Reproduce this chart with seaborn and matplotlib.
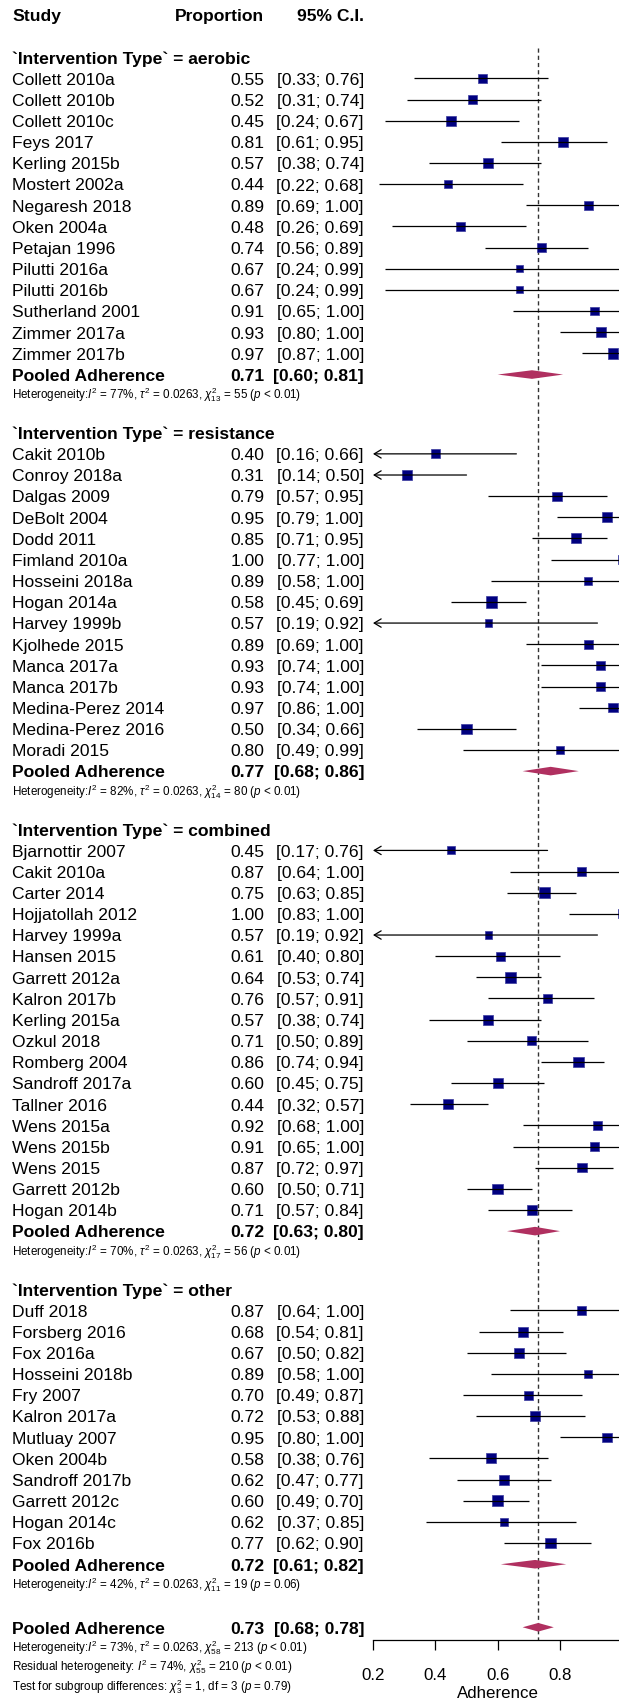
import numpy as np
import pandas as pd
import matplotlib
matplotlib.use("Agg")
import matplotlib.pyplot as plt
import matplotlib.transforms as mtransforms
import seaborn as sns

# ---------------- data ----------------
group_names = ["aerobic", "resistance", "combined", "other"]

studies_aerobic = ["Collett 2010a", "Collett 2010b", "Collett 2010c", "Feys 2017", "Kerling 2015b",
                   "Mostert 2002a", "Negaresh 2018", "Oken 2004a", "Petajan 1996", "Pilutti 2016a",
                   "Pilutti 2016b", "Sutherland 2001", "Zimmer 2017a", "Zimmer 2017b"]
prop_aerobic = [0.55, 0.52, 0.45, 0.81, 0.57, 0.44, 0.89, 0.48, 0.74, 0.67, 0.67, 0.91, 0.93, 0.97]
lo_aerobic = [0.33, 0.31, 0.24, 0.61, 0.38, 0.22, 0.69, 0.26, 0.56, 0.24, 0.24, 0.65, 0.80, 0.87]
hi_aerobic = [0.76, 0.74, 0.67, 0.95, 0.74, 0.68, 1.00, 0.69, 0.89, 0.99, 0.99, 1.00, 1.00, 1.00]
weight_aerobic = [1.38, 1.29, 1.70, 1.70, 1.60, 1.17, 1.38, 1.53, 1.53, 0.83, 0.83, 1.23, 1.70, 1.87]

studies_resistance = ["Cakit 2010b", "Conroy 2018a", "Dalgas 2009", "DeBolt 2004", "Dodd 2011",
                      "Fimland 2010a", "Hosseini 2018a", "Hogan 2014a", "Harvey 1999b", "Kjolhede 2015",
                      "Manca 2017a", "Manca 2017b", "Medina-Perez 2014", "Medina-Perez 2016", "Moradi 2015"]
prop_resistance = [0.40, 0.31, 0.79, 0.95, 0.85, 1.00, 0.89, 0.58, 0.57, 0.89, 0.93, 0.93, 0.97, 0.50, 0.80]
lo_resistance = [0.16, 0.14, 0.57, 0.79, 0.71, 0.77, 0.58, 0.45, 0.19, 0.69, 0.74, 0.74, 0.86, 0.34, 0.49]
hi_resistance = [0.66, 0.50, 0.95, 1.00, 0.95, 1.00, 1.00, 0.69, 0.92, 1.00, 1.00, 1.00, 1.00, 0.66, 0.99]
weight_resistance = [1.38, 1.70, 1.47, 1.70, 1.70, 1.38, 1.09, 2.17, 0.91, 1.38, 1.38, 1.38, 1.53, 1.87, 1.09]

studies_combined = ["Bjarnottir 2007", "Cakit 2010a", "Carter 2014", "Hojjatollah 2012", "Harvey 1999a",
                    "Hansen 2015", "Garrett 2012a", "Kalron 2017b", "Kerling 2015a", "Ozkul 2018",
                    "Romberg 2004", "Sandroff 2017a", "Tallner 2016", "Wens 2015a", "Wens 2015b",
                    "Wens 2015", "Garrett 2012b", "Hogan 2014b"]
prop_combined = [0.45, 0.87, 0.75, 1.00, 0.57, 0.61, 0.64, 0.76, 0.57, 0.71, 0.86, 0.60, 0.44, 0.92, 0.91,
                 0.87, 0.60, 0.71]
lo_combined = [0.17, 0.64, 0.63, 0.83, 0.19, 0.40, 0.53, 0.57, 0.38, 0.50, 0.74, 0.45, 0.32, 0.68, 0.65,
               0.72, 0.50, 0.57]
hi_combined = [0.76, 1.00, 0.85, 1.00, 0.92, 0.80, 0.74, 0.91, 0.74, 0.89, 0.94, 0.75, 0.57, 1.00, 1.00,
               0.97, 0.71, 0.84]
weight_combined = [1.09, 1.47, 1.95, 1.38, 0.91, 1.29, 1.95, 1.47, 1.70, 1.38, 1.87, 1.70, 1.87, 1.23, 1.23,
                   1.53, 1.87, 1.70]

studies_other = ["Duff 2018", "Forsberg 2016", "Fox 2016a", "Hosseini 2018b", "Fry 2007", "Kalron 2017a",
                 "Mutluay 2007", "Oken 2004b", "Sandroff 2017b", "Garrett 2012c", "Hogan 2014c", "Fox 2016b"]
prop_other = [0.87, 0.68, 0.67, 0.89, 0.70, 0.72, 0.95, 0.58, 0.62, 0.60, 0.62, 0.77]
lo_other = [0.64, 0.54, 0.50, 0.58, 0.49, 0.53, 0.80, 0.38, 0.47, 0.49, 0.37, 0.62]
hi_other = [1.00, 0.81, 0.82, 1.00, 0.87, 0.88, 1.00, 0.76, 0.77, 0.70, 0.85, 0.90]
weight_other = [1.38, 1.70, 1.70, 1.09, 1.38, 1.53, 1.53, 1.70, 1.70, 2.06, 1.23, 1.87]

pooled_est = [0.71, 0.77, 0.72, 0.72]
pooled_lo = [0.60, 0.68, 0.63, 0.61]
pooled_hi = [0.81, 0.86, 0.80, 0.82]
het_I2 = ["77%", "82%", "70%", "42%"]
het_df = ["13", "14", "17", "11"]
het_Q = ["55", "80", "56", "19"]
het_p = ["< 0.01", "< 0.01", "< 0.01", "= 0.06"]
tau2 = "0.0263"

overall_est, overall_lo, overall_hi = 0.73, 0.68, 0.78
overall_het = r"Heterogeneity:$I^2$ = 73%, $\tau^2$ = 0.0263, $\chi^2_{58}$ = 213 ($p$ < 0.01)"
resid_het = r"Residual heterogeneity: $I^2$ = 74%, $\chi^2_{55}$ = 210 ($p$ < 0.01)"
subgroup_test = r"Test for subgroup differences: $\chi^2_{3}$ = 1, df = 3 ($p$ = 0.79)"

xticks = [0.2, 0.4, 0.6, 0.8, 1.0]
xticklabels = ["0.2", "0.4", "0.6", "0.8", "1"]

groups = [
    (studies_aerobic, prop_aerobic, lo_aerobic, hi_aerobic, weight_aerobic),
    (studies_resistance, prop_resistance, lo_resistance, hi_resistance, weight_resistance),
    (studies_combined, prop_combined, lo_combined, hi_combined, weight_combined),
    (studies_other, prop_other, lo_other, hi_other, weight_other),
]

# ---------------- style ----------------
sns.set_theme(style="white")
plt.rcParams['font.family'] = ['Liberation Sans', 'DejaVu Sans']
plt.rcParams['mathtext.fontset'] = 'custom'
plt.rcParams['mathtext.rm'] = 'Liberation Sans'
plt.rcParams['mathtext.it'] = 'Liberation Sans:italic'
plt.rcParams['mathtext.bf'] = 'Liberation Sans:bold'
plt.rcParams['mathtext.sf'] = 'Liberation Sans'

W, H, DPI = 619, 1701, 100
ROW = 21.15          # px per row
TOP = 15.0           # px of header row centre
AXIS_PX = 1640.0     # px of x-axis line
X0_PX = 373.0        # px of x=0.2
PX_PER_UNIT = 311.7
XMIN, XMAX = 0.2, 1.1
GAP = 2.75
FS = 12.6
FS_SMALL = 8.4
TXT_SHIFT = 1.8 / ROW
SQ_COL = "#000080"
DIA_COL = "#B03060"

fig = plt.figure(figsize=(W / DPI, H / DPI), dpi=DPI)
fig.patch.set_facecolor("white")
ax = fig.add_axes([X0_PX / W, (H - AXIS_PX) / H, (XMAX - XMIN) * PX_PER_UNIT / W, AXIS_PX / H])
ax.set_facecolor("white")
ax.set_xlim(XMIN, XMAX)
ax.set_ylim((AXIS_PX - TOP) / ROW, -TOP / ROW)

trans = mtransforms.blended_transform_factory(fig.transFigure, ax.transData)
X_STUDY = 12.5 / W
X_PROP = 264.5 / W
X_CI = 364.0 / W
X_HET = 12.5 / W


def txt(x, y, s, ha="left", bold=False, size=FS):
    ax.text(x, y + TXT_SHIFT, s, transform=trans, ha=ha, va="center", fontsize=size,
            fontweight="bold" if bold else "normal", color="black", clip_on=False)


txt(X_STUDY, 0, "Study", bold=True)
txt(X_PROP, 0, "Proportion", ha="right", bold=True)
txt(X_CI, 0, "95% C.I.", ha="right", bold=True)

rows = []
pooled_rows = []
u = 2.0
for gi, (names, prop, lo, hi, wt) in enumerate(groups):
    txt(X_STUDY, u, "`Intervention Type` = " + group_names[gi], bold=True)
    for i in range(len(names)):
        yy = u + 1 + i
        rows.append(dict(study=names[i], prop=prop[i], lo=lo[i], hi=hi[i], weight=wt[i], row=yy))
        txt(X_STUDY, yy, names[i])
        txt(X_PROP, yy, f"{prop[i]:.2f}", ha="right")
        txt(X_CI, yy, f"[{lo[i]:.2f}; {hi[i]:.2f}]", ha="right")
    up = u + len(names) + 1
    pooled_rows.append((pooled_est[gi], pooled_lo[gi], pooled_hi[gi], up))
    txt(X_STUDY, up, "Pooled Adherence", bold=True)
    txt(X_PROP, up, f"{pooled_est[gi]:.2f}", ha="right", bold=True)
    txt(X_CI, up, f"[{pooled_lo[gi]:.2f}; {pooled_hi[gi]:.2f}]", ha="right", bold=True)
    het = (r"Heterogeneity:$I^2$ = " + het_I2[gi] + r", $\tau^2$ = " + tau2 +
           r", $\chi^2_{" + het_df[gi] + r"}$ = " + het_Q[gi] + r" ($p$ " + het_p[gi] + ")")
    txt(X_HET, up + 0.87, het, size=FS_SMALL)
    last_pooled = up
    u = up + GAP

uo = last_pooled + 2.98
pooled_rows.append((overall_est, overall_lo, overall_hi, uo))
txt(X_STUDY, uo, "Pooled Adherence", bold=True)
txt(X_PROP, uo, f"{overall_est:.2f}", ha="right", bold=True)
txt(X_CI, uo, f"[{overall_lo:.2f}; {overall_hi:.2f}]", ha="right", bold=True)
txt(X_HET, uo + 0.90, overall_het, size=FS_SMALL)
txt(X_HET, uo + 1.80, resid_het, size=FS_SMALL)
txt(X_HET, uo + 2.74, subgroup_test, size=FS_SMALL)

df = pd.DataFrame(rows)

# overall reference line
ax.vlines(overall_est, 1.55, (AXIS_PX - TOP) / ROW, colors="#333333", linewidth=1.0,
          linestyles=(0, (3.0, 2.2)), zorder=1)

# confidence intervals
for _, r in df.iterrows():
    if r["lo"] < XMIN:
        ax.annotate("", xy=(XMIN, r["row"]), xytext=(r["hi"], r["row"]),
                    arrowprops=dict(arrowstyle="->,head_length=0.5,head_width=0.3", lw=0.9,
                                    color="black", shrinkA=0, shrinkB=0, mutation_scale=10),
                    zorder=3)
    else:
        ax.hlines(r["row"], r["lo"], r["hi"], colors="black", linewidth=0.9, zorder=3)

# squares (area proportional to weight)
K = 30.5
wmin, wmax = df["weight"].min(), df["weight"].max()
sns.scatterplot(data=df, x="prop", y="row", size="weight", sizes=(K * wmin, K * wmax),
                size_norm=(wmin, wmax), marker="s", color=SQ_COL, edgecolor="#3b3b9e",
                linewidth=0.5, legend=False, ax=ax, zorder=2, clip_on=False)

# diamonds
HH = 4.3 / ROW
for est, lo, hi, yy in pooled_rows:
    ax.fill([lo, est, hi, est], [yy, yy - HH, yy, yy + HH], color=DIA_COL, lw=0, zorder=3)

# axis
for s in ["left", "top", "right"]:
    ax.spines[s].set_visible(False)
ax.spines["bottom"].set_color("black")
ax.spines["bottom"].set_linewidth(0.9)
ax.spines["bottom"].set_bounds(0.2, 1.0)
ax.set_xticks(xticks)
ax.set_xticklabels(xticklabels)
ax.set_yticks([])
ax.tick_params(axis="x", bottom=True, direction="out", length=7.2, width=0.9, pad=12.7,
               labelsize=12.2, colors="black")
ax.grid(False)
ax.set_ylabel("")
ax.set_xlabel("Adherence", fontsize=12.2, color="black")
ax.xaxis.label.set_va("center")
ax.xaxis.set_label_coords((0.6 - XMIN) / (XMAX - XMIN), -(1693.5 - AXIS_PX) / AXIS_PX)

fig.savefig("out.png", dpi=DPI, facecolor="white")
